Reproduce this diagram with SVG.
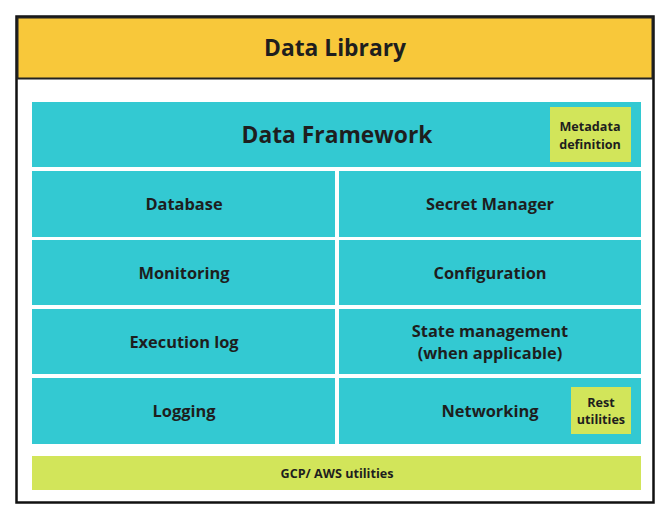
<svg xmlns="http://www.w3.org/2000/svg" width="667" height="522" viewBox="0 0 667 522">
<style>
.t{font-family:"Open Sans",sans-serif;font-weight:bold;fill:#1e1e1e;text-anchor:middle}
.c{fill:#33c9d2}
.g{fill:#d2e55a}
</style>
<rect x="0" y="0" width="667" height="522" fill="#fff"/>
<g id="library">
<rect x="16.5" y="16.5" width="637" height="486" fill="#fff" stroke="#111" stroke-width="2.5"/>
<rect x="17.5" y="17.5" width="635" height="61" fill="#f8c83a" stroke="#222" stroke-width="2"/>
<text class="t" x="335" y="56" font-size="22.8">Data Library</text>
</g>
<g id="framework">
<rect class="c" x="32" y="102" width="609" height="65"/>
<text class="t" x="337" y="143" font-size="22.8">Data Framework</text>
</g>
<g id="metadata">
<rect class="g" x="550" y="107" width="81" height="55"/>
<text class="t" x="590" y="131" font-size="12.6">Metadata</text>
<text class="t" x="590" y="149" font-size="12.6">definition</text>
</g>
<g id="database"><rect class="c" x="32" y="171" width="303" height="66"/><text class="t" x="184" y="210" font-size="16.4">Database</text></g>
<g id="secret"><rect class="c" x="339" y="171" width="302" height="66"/><text class="t" x="490" y="210" font-size="16.4">Secret Manager</text></g>
<g id="monitoring"><rect class="c" x="32" y="240" width="303" height="65"/><text class="t" x="184" y="279" font-size="16.4">Monitoring</text></g>
<g id="configuration"><rect class="c" x="339" y="240" width="302" height="65"/><text class="t" x="490" y="279" font-size="16.4">Configuration</text></g>
<g id="execlog"><rect class="c" x="32" y="309" width="303" height="65"/><text class="t" x="184" y="348" font-size="16.4">Execution log</text></g>
<g id="state"><rect class="c" x="339" y="309" width="302" height="65"/><text class="t" x="490" y="337" font-size="16.4">State management</text><text class="t" x="490" y="359" font-size="16.4">(when applicable)</text></g>
<g id="logging"><rect class="c" x="32" y="378" width="303" height="66"/><text class="t" x="184" y="417" font-size="16.4">Logging</text></g>
<g id="networking"><rect class="c" x="339" y="378" width="302" height="66"/><text class="t" x="490" y="417" font-size="16.4">Networking</text></g>
<g id="rest">
<rect class="g" x="571" y="387" width="60" height="47"/>
<text class="t" x="601" y="407" font-size="12.6">Rest</text>
<text class="t" x="601" y="424" font-size="12.6">utilities</text>
</g>
<g id="cloud">
<rect class="g" x="32" y="456" width="609" height="34"/>
<text class="t" x="337" y="478" font-size="12.6">GCP/ AWS utilities</text>
</g>
<g id="connectors"/>
</svg>
